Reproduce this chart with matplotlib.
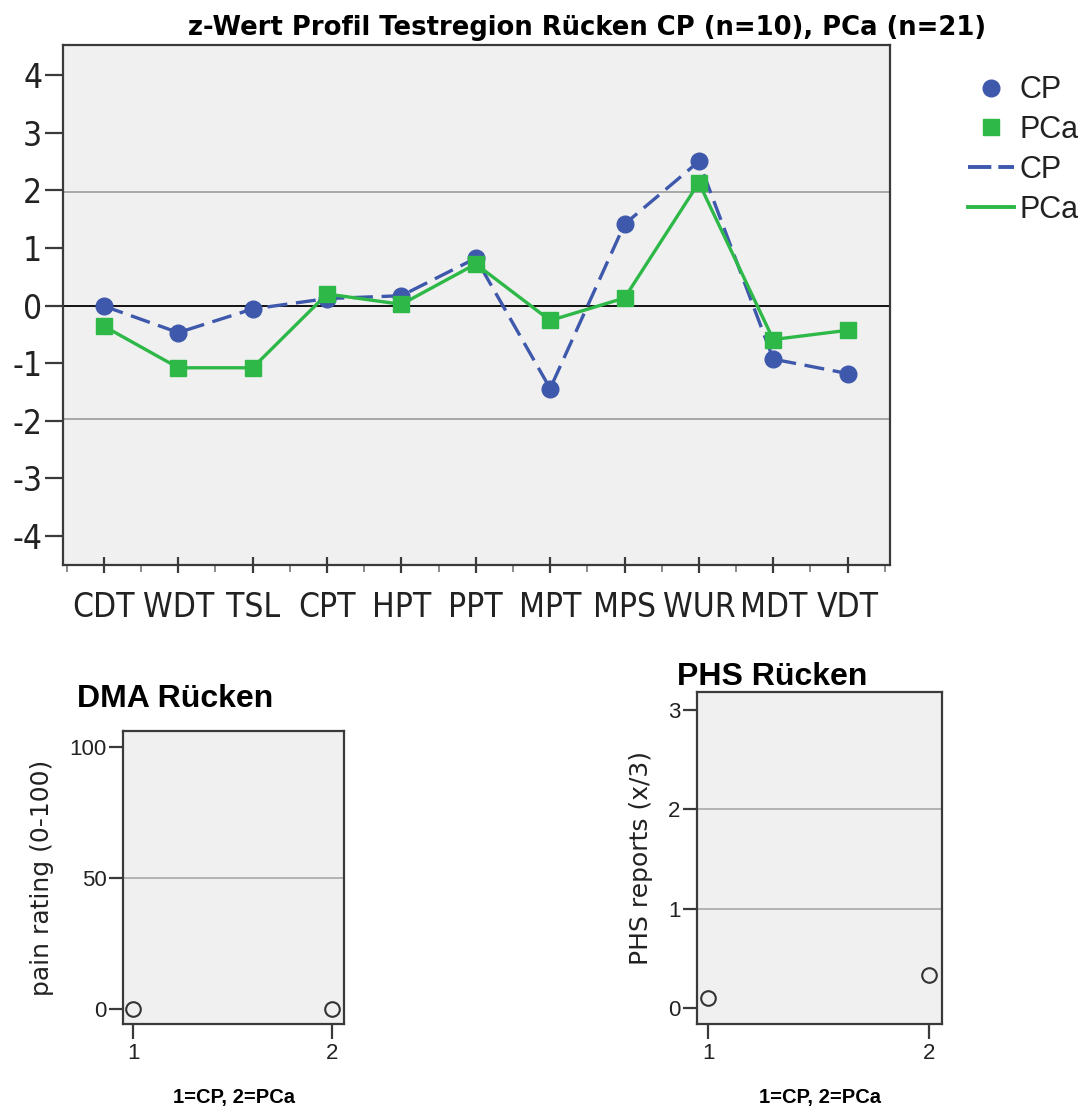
import numpy as np
import matplotlib
matplotlib.use("Agg")
import matplotlib.pyplot as plt
from matplotlib import font_manager
from matplotlib.font_manager import FontProperties
from matplotlib.lines import Line2D

# ---- data -------------------------------------------------------------
tests = ["CDT", "WDT", "TSL", "CPT", "HPT", "PPT", "MPT", "MPS", "WUR", "MDT", "VDT"]
z_cp = [-0.01, -0.47, -0.06, 0.12, 0.17, 0.82, -1.44, 1.41, 2.50, -0.93, -1.18]
z_pca = [-0.36, -1.08, -1.08, 0.20, 0.02, 0.72, -0.26, 0.13, 2.13, -0.59, -0.43]
z_ticks = [-4, -3, -2, -1, 0, 1, 2, 3, 4]
z_tick_labels = ["-4", "-3", "-2", "-1", "0", "1", "2", "3", "4"]
z_limits = [-1.96, 1.96]

groups = [1, 2]
group_labels = ["1", "2"]
dma_rating = [0.0, 0.0]
dma_ticks = [0, 50, 100]
dma_grid = [50]
phs_reports = [0.10, 0.33]
phs_ticks = [0, 1, 2, 3]
phs_grid = [1, 2]

# ---- style ------------------------------------------------------------
BLUE = "#3E58AC"
GREEN = "#2EB848"
PANEL = "#F0F0F0"
SPINE = "#3A3A3A"
GRID = "#A8A8A8"
TEXT = "#222222"

available = {f.name for f in font_manager.fontManager.ttflist}
condensed_file = font_manager.findfont(
    FontProperties(family="DejaVu Sans", stretch="condensed"), fallback_to_default=True)
if "Liberation Sans Narrow" in available:
    tick_font = dict(family="Liberation Sans Narrow", size=26)
elif "Condensed" in condensed_file:
    tick_font = dict(family="DejaVu Sans", stretch="condensed", size=24)
else:
    tick_font = dict(family="Liberation Sans", size=23)
plain = "Liberation Sans"

fig = plt.figure(figsize=(10.85, 11.06), dpi=100)


def frame(ax):
    ax.set_facecolor(PANEL)
    for s in ax.spines.values():
        s.set_color(SPINE)
        s.set_linewidth(1.6)


# ---- z-score profile --------------------------------------------------
ax = fig.add_axes([0.0581, 0.4892, 0.7622, 0.4702])
frame(ax)
x = np.arange(len(tests))
for lim in z_limits:
    ax.axhline(lim, color=GRID, lw=1.4, zorder=1)
ax.axhline(0, color="black", lw=1.3, zorder=1)

ax.plot(x, z_cp, color=BLUE, lw=2.4, dashes=(6, 2.6), zorder=3)
ax.plot(x, z_pca, color=GREEN, lw=2.4, zorder=3)
ax.plot(x, z_cp, "o", color=BLUE, ms=12, mec=BLUE, zorder=4)
ax.plot(x, z_pca, "s", color=GREEN, ms=11, mec=GREEN, zorder=5)

ax.set_xlim(-0.55, len(tests) - 1 + 0.57)
ax.set_ylim(-4.5, 4.52)
ax.set_yticks(z_ticks)
ax.set_yticklabels(z_tick_labels, color=TEXT, **tick_font)
ax.set_xticks(x)
ax.set_xticklabels(tests, color=TEXT, **tick_font)
ax.set_xticks(np.arange(-0.5, len(tests), 1.0), minor=True)
ax.tick_params(axis="y", direction="out", length=13, width=1.6, color=SPINE, pad=2)
ax.tick_params(axis="x", which="major", direction="inout", length=11, width=1.6,
               color=SPINE, pad=13)
ax.tick_params(axis="x", which="minor", direction="out", length=5, width=1.2,
               color="#777777")

fig.text(0.541, 0.9684, "z-Wert Profil Testregion Rücken CP (n=10), PCa (n=21)",
         ha="center", va="baseline", family="DejaVu Sans", weight="bold",
         size=18.6, color="black")

handles = [
    Line2D([], [], ls="none", marker="o", color=BLUE, ms=12),
    Line2D([], [], ls="none", marker="s", color=GREEN, ms=11),
    Line2D([], [], color=BLUE, lw=2.8, dashes=(6, 1.8)),
    Line2D([], [], color=GREEN, lw=2.8),
]
fig.legend(handles, ["CP", "PCa", "CP", "PCa"], loc="upper left",
           bbox_to_anchor=(0.892, 0.932), frameon=False,
           prop=dict(family=plain, size=22), handlelength=1.5,
           handletextpad=0.2, labelspacing=0.32, borderaxespad=0, borderpad=0,
           labelcolor=TEXT)

# ---- small group panels -------------------------------------------------
def group_panel(rect, values, ticks, grid, ylim, ylabel, title, title_xy):
    a = fig.add_axes(rect)
    frame(a)
    for g in grid:
        a.axhline(g, color=GRID, lw=1.2, zorder=1)
    a.plot(groups, values, "o", ms=10.5, mfc="none", mec="#333333", mew=1.5,
           zorder=3)
    a.set_xlim(0.948, 2.06)
    a.set_ylim(*ylim)
    a.set_xticks(groups)
    a.set_xticklabels(group_labels, family=plain, size=16, color=TEXT)
    a.set_yticks(ticks)
    a.set_yticklabels([str(t) for t in ticks], family=plain, size=16, color=TEXT)
    a.tick_params(axis="x", direction="out", length=11, width=1.6, color=SPINE, pad=3)
    a.tick_params(axis="y", direction="out", length=10, width=1.6, color=SPINE, pad=2)
    a.set_ylabel(ylabel, family="DejaVu Sans", size=18, color=TEXT, labelpad=11)
    a.set_xlabel("1=CP, 2=PCa", family=plain, weight="bold", size=14.5,
                 color="black", labelpad=17)
    a.text(title_xy[0], title_xy[1], title, transform=a.transAxes, ha="left",
           va="baseline", family=plain, weight="bold", size=23, color="black")
    return a


group_panel([0.1134, 0.0741, 0.2037, 0.2649], dma_rating, dma_ticks, dma_grid,
            (-5.7, 106), "pain rating (0-100)", "DMA Rücken", (-0.208, 1.082))
group_panel([0.6424, 0.0741, 0.2258, 0.3002], phs_reports, phs_ticks, phs_grid,
            (-0.16, 3.18), "PHS reports (x/3)", "PHS Rücken", (-0.082, 1.021))

fig.savefig("out.png", dpi=100, facecolor="white")
